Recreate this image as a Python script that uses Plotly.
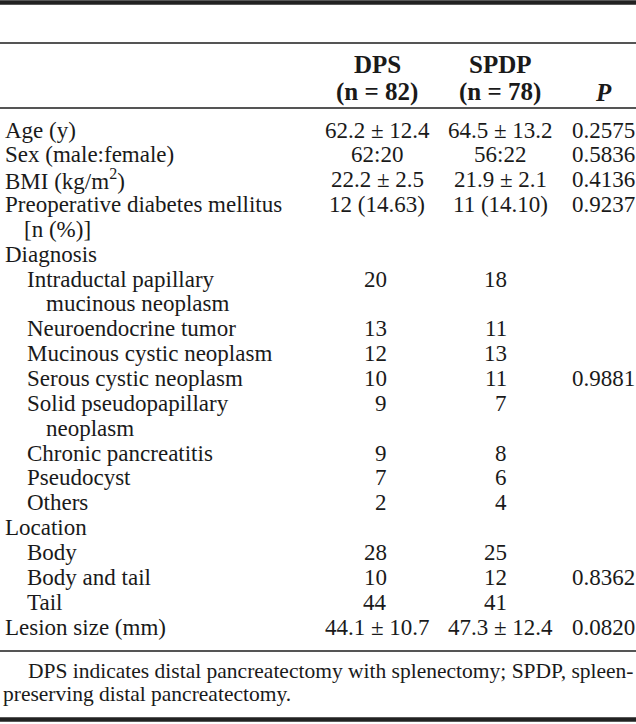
import plotly.graph_objects as go

# ---- table content ----
header_groups = ["DPS", "SPDP"]
header_ns = ["(n = 82)", "(n = 78)"]
header_p = "P"

row_labels = [
    ["Age (y)"],
    ["Sex (male:female)"],
    ["BMI (kg/m<sup>2</sup>)"],
    ["Preoperative diabetes mellitus", "[n (%)]"],
    ["Diagnosis"],
    ["Intraductal papillary", "mucinous neoplasm"],
    ["Neuroendocrine tumor"],
    ["Mucinous cystic neoplasm"],
    ["Serous cystic neoplasm"],
    ["Solid pseudopapillary", "neoplasm"],
    ["Chronic pancreatitis"],
    ["Pseudocyst"],
    ["Others"],
    ["Location"],
    ["Body"],
    ["Body and tail"],
    ["Tail"],
    ["Lesion size (mm)"],
]
row_level = [0, 0, 0, 0, 0, 1, 1, 1, 1, 1, 1, 1, 1, 0, 1, 1, 1, 0]
dps_vals = ["62.2 ± 12.4", "62:20", "22.2 ± 2.5", "12 (14.63)", "",
            "20", "13", "12", "10", "9", "9", "7", "2", "",
            "28", "10", "44", "44.1 ± 10.7"]
spdp_vals = ["64.5 ± 13.2", "56:22", "21.9 ± 2.1", "11 (14.10)", "",
             "18", "11", "13", "11", "7", "8", "6", "4", "",
             "25", "12", "41", "47.3 ± 12.4"]
p_vals = ["0.2575", "0.5836", "0.4136", "0.9237", "",
          "", "", "", "0.9881", "", "", "", "", "",
          "", "0.8362", "", "0.0820"]
footnote_lines = [
    "DPS indicates distal pancreatectomy with splenectomy; SPDP, spleen-",
    "preserving distal pancreatectomy.",
]

# ---- layout constants ----
W, H = 636, 724
FONT = "Liberation Serif, Times New Roman, serif"
FS = 23
HFS = 25
COLOR = "#1a1a1a"
LINE_H = 24.85
Y0 = 130
X_LABEL = 3
X_INDENT = 22
X_CONT = 19
X_DPS_C, X_DPS_R = 377, 389
X_SPDP_C, X_SPDP_R = 500, 509
X_P_C = 603

fig = go.Figure()
ann = []

def add(text, x, y, anchor="left", bold=False, size=FS, italic=False):
    t = text
    if bold:
        t = "<b>" + t + "</b>"
    if italic:
        t = "<i>" + t + "</i>"
    ann.append(dict(text=t, x=x, y=y, xref="x", yref="y", xanchor=anchor,
                    yanchor="middle", showarrow=False,
                    font=dict(family=FONT, size=size, color=COLOR)))

# header
for i, (g, n) in enumerate(zip(header_groups, header_ns)):
    xc = [X_DPS_C, X_SPDP_C][i]
    add(g, xc, 64, "center", bold=True, size=HFS)
    add(n, xc, 92, "center", bold=True, size=HFS)
add(header_p, X_P_C, 92, "center", bold=True, italic=True, size=HFS)

# body
line = 0
for lbls, lvl, d, s, p in zip(row_labels, row_level, dps_vals, spdp_vals, p_vals):
    y = Y0 + line * LINE_H
    base = X_LABEL + lvl * X_INDENT
    for k, t in enumerate(lbls):
        add(t, base + (X_CONT if k else 0), y + k * LINE_H, "left")
    if d:
        if d.isdigit():
            add(d, X_DPS_R, y, "right")
        else:
            add(d, X_DPS_C, y, "center")
    if s:
        if s.isdigit():
            add(s, X_SPDP_R, y, "right")
        else:
            add(s, X_SPDP_C, y, "center")
    if p:
        add(p, X_P_C, y, "center")
    line += len(lbls)

# footnote
add(footnote_lines[0], 26, 671, "left", size=21.5)
add(footnote_lines[1], 1, 694, "left", size=21.5)

shapes = [
    dict(type="line", x0=0, x1=W, y0=2.5, y1=2.5, line=dict(color="#222", width=4.5)),
    dict(type="line", x0=0, x1=W, y0=43, y1=43, line=dict(color="#555", width=2)),
    dict(type="line", x0=0, x1=W, y0=108, y1=108, line=dict(color="#555", width=2)),
    dict(type="line", x0=0, x1=W, y0=651, y1=651, line=dict(color="#555", width=2)),
    dict(type="line", x0=0, x1=W, y0=719.5, y1=719.5, line=dict(color="#222", width=4.5)),
]
for sh in shapes:
    sh.update(xref="x", yref="y", layer="above")

fig.update_layout(
    width=W, height=H, margin=dict(l=0, r=0, t=0, b=0),
    paper_bgcolor="white", plot_bgcolor="white",
    xaxis=dict(range=[0, W], visible=False, fixedrange=True),
    yaxis=dict(range=[H, 0], visible=False, fixedrange=True),
    annotations=ann, shapes=shapes, showlegend=False,
)
fig.write_html(
    "out.html",
    config={"displayModeBar": False},
    post_script="document.body.style.margin='0';document.body.style.overflow='hidden';",
)
